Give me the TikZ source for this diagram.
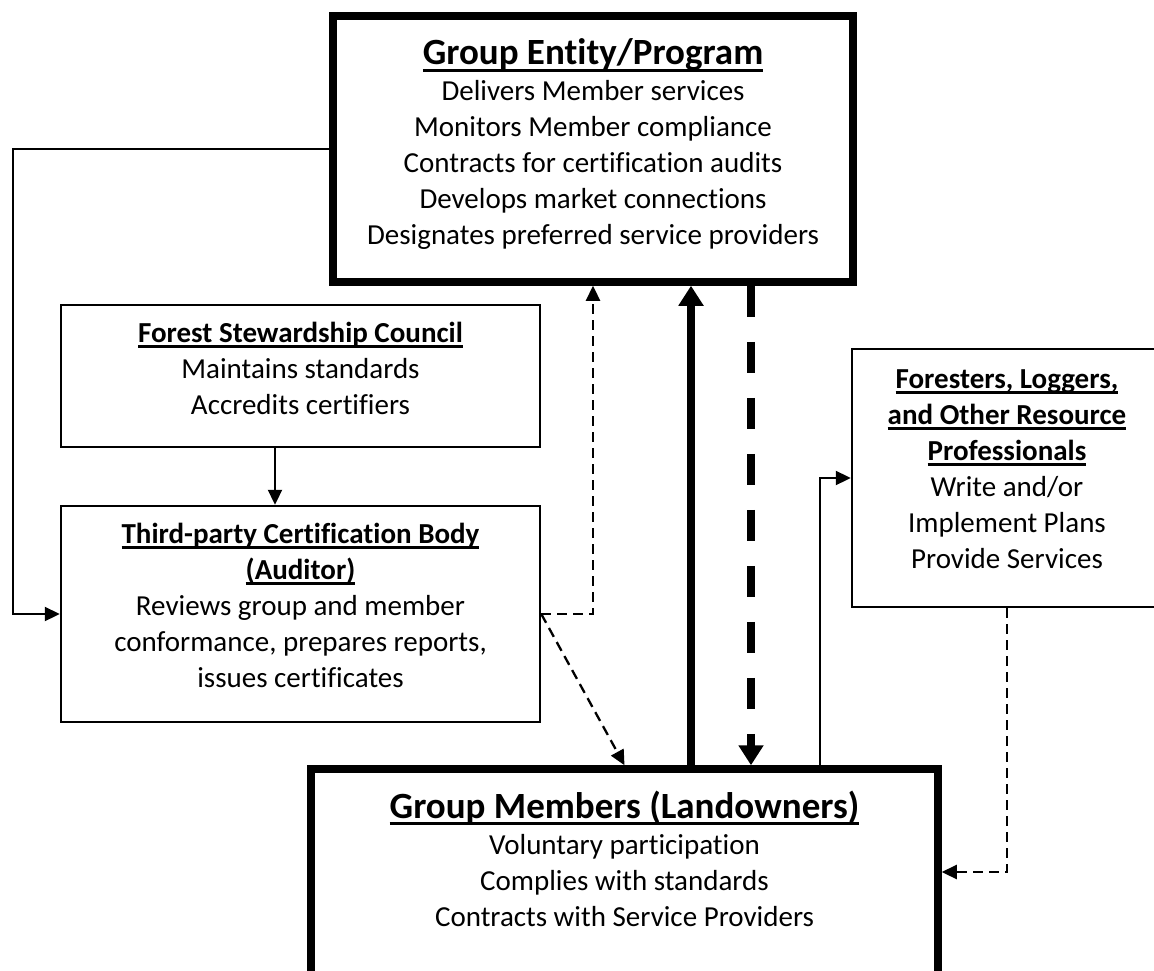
\documentclass[tikz,border=0pt]{standalone}
\usepackage{fontspec}
\setmainfont{Carlito}[Ligatures={NoCommon}]
\usetikzlibrary{arrows.meta,calc}
\newsavebox\ulbox
\newcommand{\myul}[1]{\sbox\ulbox{#1}\rlap{\rule[-0.19em]{\wd\ulbox}{0.075em}}\usebox\ulbox}
\newcommand{\bigtitle}[1]{{\fontsize{37}{36}\selectfont\bfseries\myul{#1}}}
\newcommand{\smalltitle}[1]{{\bfseries\myul{#1}}}
\tikzset{
  boxthin/.style={draw, line width=2.5pt, fill=white, rectangle, inner sep=0pt},
  boxthick/.style={draw, line width=7.5pt, fill=white, rectangle, inner sep=0pt},
  txt/.style={anchor=base, inner sep=0pt, font=\fontsize{29}{36}\selectfont},
  conn/.style={line width=2.3pt, -{Triangle[length=15pt,width=14pt]}},
  dconn/.style={conn, dash pattern=on 10pt off 6pt},
  thickconn/.style={line width=7.5pt, -{Triangle[length=20pt,width=24pt]}},
  thickdash/.style={thickconn, dash pattern=on 31pt off 25pt}
}
\begin{document}
\begin{tikzpicture}[x=1pt,y=-1pt]
\useasboundingbox (0,0) rectangle (1154,971);
\fill[white] (0,0) rectangle (1154,971);

% boxes
\node[boxthick, minimum width=520pt, minimum height=266pt] (top) at (593,149) {};
\node[boxthin, minimum width=479pt, minimum height=142pt] (fsc) at (300.5,376) {};
\node[boxthin, minimum width=479pt, minimum height=216pt] (third) at (300.5,614) {};
\node[boxthin, minimum width=310pt, minimum height=258pt] (for) at (1007,478) {};
\node[boxthick, minimum width=627pt, minimum height=206pt] (mem) at (624.5,872) {};

% texts
\node[txt] (topT) at (593,65) {\begin{tabular}[t]{@{}c@{}}
\bigtitle{Group Entity/Program}\\
Delivers Member services\\
Monitors Member compliance\\
Contracts for certification audits\\
Develops market connections\\
Designates preferred service providers
\end{tabular}};

\node[txt] (fscT) at (300.5,342) {\begin{tabular}[t]{@{}c@{}}
\smalltitle{Forest Stewardship Council}\\
Maintains standards\\
Accredits certifiers
\end{tabular}};

\node[txt] (thirdT) at (300.5,543) {\begin{tabular}[t]{@{}c@{}}
\smalltitle{Third-party Certification Body}\\
\smalltitle{(Auditor)}\\
Reviews group and member\\
conformance, prepares reports,\\
issues certificates
\end{tabular}};

\node[txt] (forT) at (1007,388) {\begin{tabular}[t]{@{}c@{}}
\smalltitle{Foresters, Loggers,}\\
\smalltitle{and Other Resource}\\
\smalltitle{Professionals}\\
Write and/or\\
Implement Plans\\
Provide Services
\end{tabular}};

\node[txt] (memT) at (624.5,818) {\begin{tabular}[t]{@{}c@{}}
\bigtitle{Group Members (Landowners)}\\
Voluntary participation\\
Complies with standards\\
Contracts with Service Providers
\end{tabular}};

% helper coordinates
\coordinate (L1) at (13,149);
\coordinate (L2) at (13,614);
\coordinate (cF) at (275,0);
\coordinate (cUp) at (691,0);
\coordinate (cDn) at (751,0);
\coordinate (cFo) at (820,0);

% connectors
\draw[conn] (top.west) -- (L1) -- (L2) -- (third.west);
\draw[conn] (fsc.south -| cF) -- (third.north -| cF);
\draw[dconn] (third.east) -| (top.south);
\draw[dconn] (third.east) -- (mem.north);
\draw[thickconn] (mem.north -| cUp) -- (top.south -| cUp);
\draw[thickdash] (top.south -| cDn) -- (mem.north -| cDn);
\draw[conn] (mem.north -| cFo) |- (for.west);
\draw[dconn] (for.south) |- (mem.east);
\end{tikzpicture}
\end{document}
